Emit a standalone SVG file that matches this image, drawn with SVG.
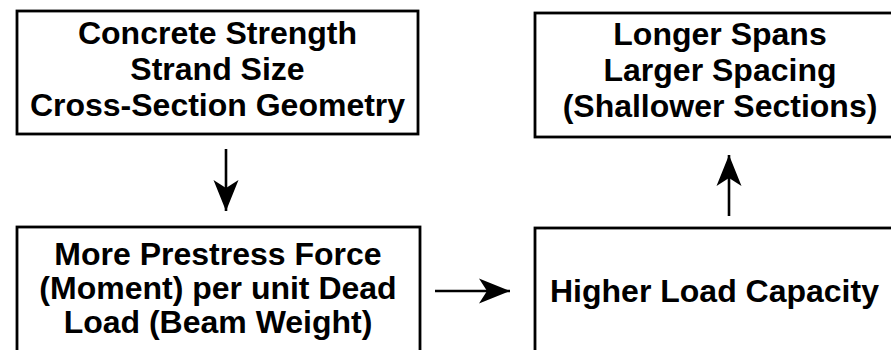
<svg xmlns="http://www.w3.org/2000/svg" width="891" height="350" viewBox="0 0 891 350">
  <style>
    .box { fill: #fff; stroke: #000; stroke-width: 2.8; }
    .lbl { font-family: "Liberation Sans", Arial, sans-serif; font-weight: bold; font-size: 32px; fill: #000; }
    .c { text-anchor: middle; }
    .conn { stroke: #000; stroke-width: 2.6; fill: none; marker-end: url(#head); }
  </style>
  <defs>
    <marker id="head" markerUnits="userSpaceOnUse" viewBox="-34 -15 36 30" refX="0" refY="0" markerWidth="36" markerHeight="30" orient="auto" overflow="visible">
      <path d="M0,0 L-31,-12.5 L-23,0 L-31,12.5 Z" fill="#000"/>
    </marker>
  </defs>
  <rect width="891" height="350" fill="#fff"/>
  <g id="node-inputs">
    <rect class="box" x="17" y="11" width="401" height="123"/>
    <text class="lbl c" x="217.5" y="44">Concrete Strength</text>
    <text class="lbl c" x="217.5" y="80">Strand Size</text>
    <text class="lbl c" x="217.5" y="116">Cross-Section Geometry</text>
  </g>
  <g id="node-results">
    <rect class="box" x="535" y="13" width="370" height="124"/>
    <text class="lbl c" x="720" y="45">Longer Spans</text>
    <text class="lbl c" x="720" y="81">Larger Spacing</text>
    <text class="lbl c" x="720" y="117">(Shallower Sections)</text>
  </g>
  <g id="node-prestress">
    <rect class="box" x="17" y="227" width="403" height="140"/>
    <text class="lbl c" x="218" y="265">More Prestress Force</text>
    <text class="lbl c" x="218" y="299">(Moment) per unit Dead</text>
    <text class="lbl c" x="218" y="333">Load (Beam Weight)</text>
  </g>
  <g id="node-capacity">
    <rect class="box" x="535" y="228" width="370" height="140"/>
    <text class="lbl" x="550" y="302">Higher Load Capacity</text>
  </g>
  <g id="connectors">
    <line class="conn" x1="226" y1="149" x2="226" y2="211"/>
    <line class="conn" x1="435" y1="291" x2="510" y2="291"/>
    <line class="conn" x1="729" y1="216" x2="729" y2="155"/>
  </g>
</svg>
